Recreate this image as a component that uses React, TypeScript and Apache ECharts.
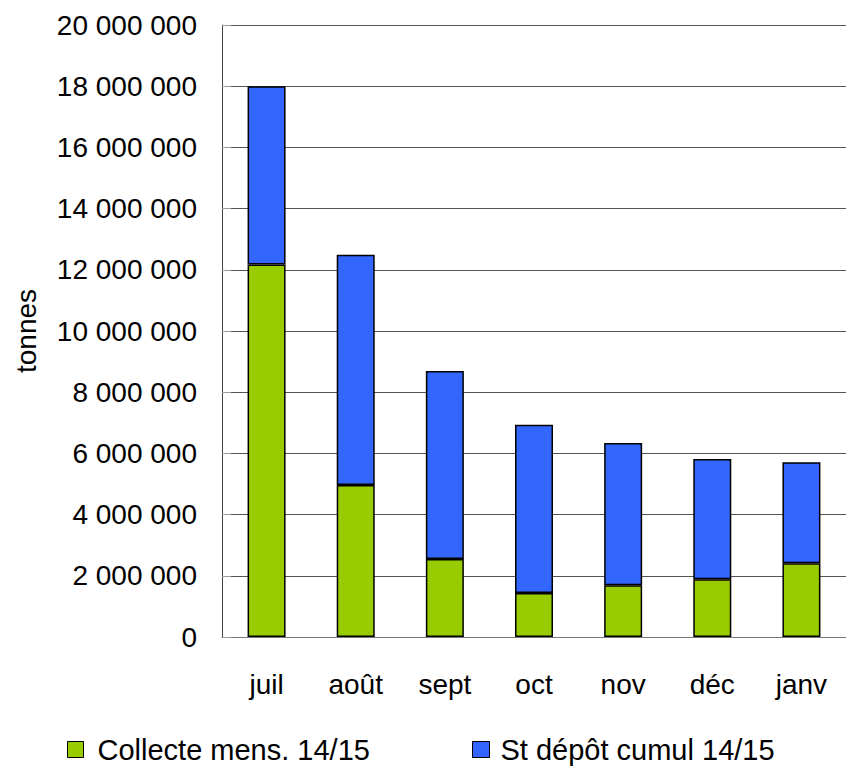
import React, { useEffect, useRef } from "react";
import * as echarts from "echarts";

const categories = ["juil", "août", "sept", "oct", "nov", "déc", "janv"];
const collecte = [12170000, 4970000, 2550000, 1440000, 1690000, 1890000, 2410000];
const depot = [5830000, 7520000, 6140000, 5500000, 4650000, 3930000, 3300000];
const seriesNames = ["Collecte mens. 14/15", "St dépôt cumul 14/15"];
const yAxisTitle = "tonnes";

const FONT = "'Liberation Sans', Arial, sans-serif";

function fmt(v: number): string {
  return String(Math.round(v)).replace(/\B(?=(\d{3})+(?!\d))/g, " ");
}

export default function App() {
  const ref = useRef<HTMLDivElement>(null);
  useEffect(() => {
    if (!ref.current) return;
    const chart = echarts.init(ref.current, null, { renderer: "svg" });
    chart.setOption({
      animation: false,
      backgroundColor: "#ffffff",
      textStyle: { fontFamily: FONT },
      grid: { left: 222, right: 0, top: 25, bottom: 129, containLabel: false },
      legend: [
        {
          data: [seriesNames[0]],
          left: 67,
          top: 735,
          padding: 0,
          itemWidth: 16,
          itemHeight: 16,
          icon: "rect",
          itemStyle: { borderColor: "#000", borderWidth: 1 },
          textStyle: { fontSize: 29, color: "#000", fontFamily: FONT, padding: [0, 0, 0, 9] },
        },
        {
          data: [seriesNames[1]],
          left: 472,
          top: 735,
          padding: 0,
          itemWidth: 17,
          itemHeight: 16,
          icon: "rect",
          itemStyle: { borderColor: "#000", borderWidth: 1 },
          textStyle: { fontSize: 29, color: "#000", fontFamily: FONT, padding: [0, 0, 0, 6] },
        },
      ],
      graphic: [
        {
          type: "text",
          x: 26,
          y: 331,
          rotation: Math.PI / 2,
          style: {
            text: yAxisTitle,
            fontSize: 28,
            fontFamily: FONT,
            fill: "#000",
            align: "center",
            verticalAlign: "middle",
          },
        },
      ],
      xAxis: {
        type: "category",
        data: categories,
        axisLine: { show: true, lineStyle: { color: "#777", width: 1 } },
        axisTick: { show: false },
        axisLabel: { fontSize: 28, color: "#000", fontFamily: FONT, margin: 33 },
      },
      yAxis: {
        type: "value",
        min: 0,
        max: 20000000,
        interval: 2000000,
        axisLine: { show: true, lineStyle: { color: "#444", width: 1 } },
        axisTick: { show: true, inside: true, length: 9, lineStyle: { color: "#999" } },
        splitLine: { show: true, lineStyle: { color: "#555", width: 1 } },
        axisLabel: {
          fontSize: 28,
          color: "#000",
          fontFamily: FONT,
          margin: 25,
          formatter: (v: number) => fmt(v),
        },
      },
      series: [
        {
          name: seriesNames[0],
          type: "bar",
          stack: "total",
          data: collecte,
          barWidth: 38,
          itemStyle: { color: "#99CC00", borderColor: "#000", borderWidth: 1.5 },
        },
        {
          name: seriesNames[1],
          type: "bar",
          stack: "total",
          data: depot,
          barWidth: 38,
          itemStyle: { color: "#3366FF", borderColor: "#000", borderWidth: 1.5 },
        },
      ],
    });
    return () => chart.dispose();
  }, []);
  return (
    <div
      ref={ref}
      style={{ position: "fixed", left: 0, top: 0, width: 846, height: 766 }}
    />
  );
}
